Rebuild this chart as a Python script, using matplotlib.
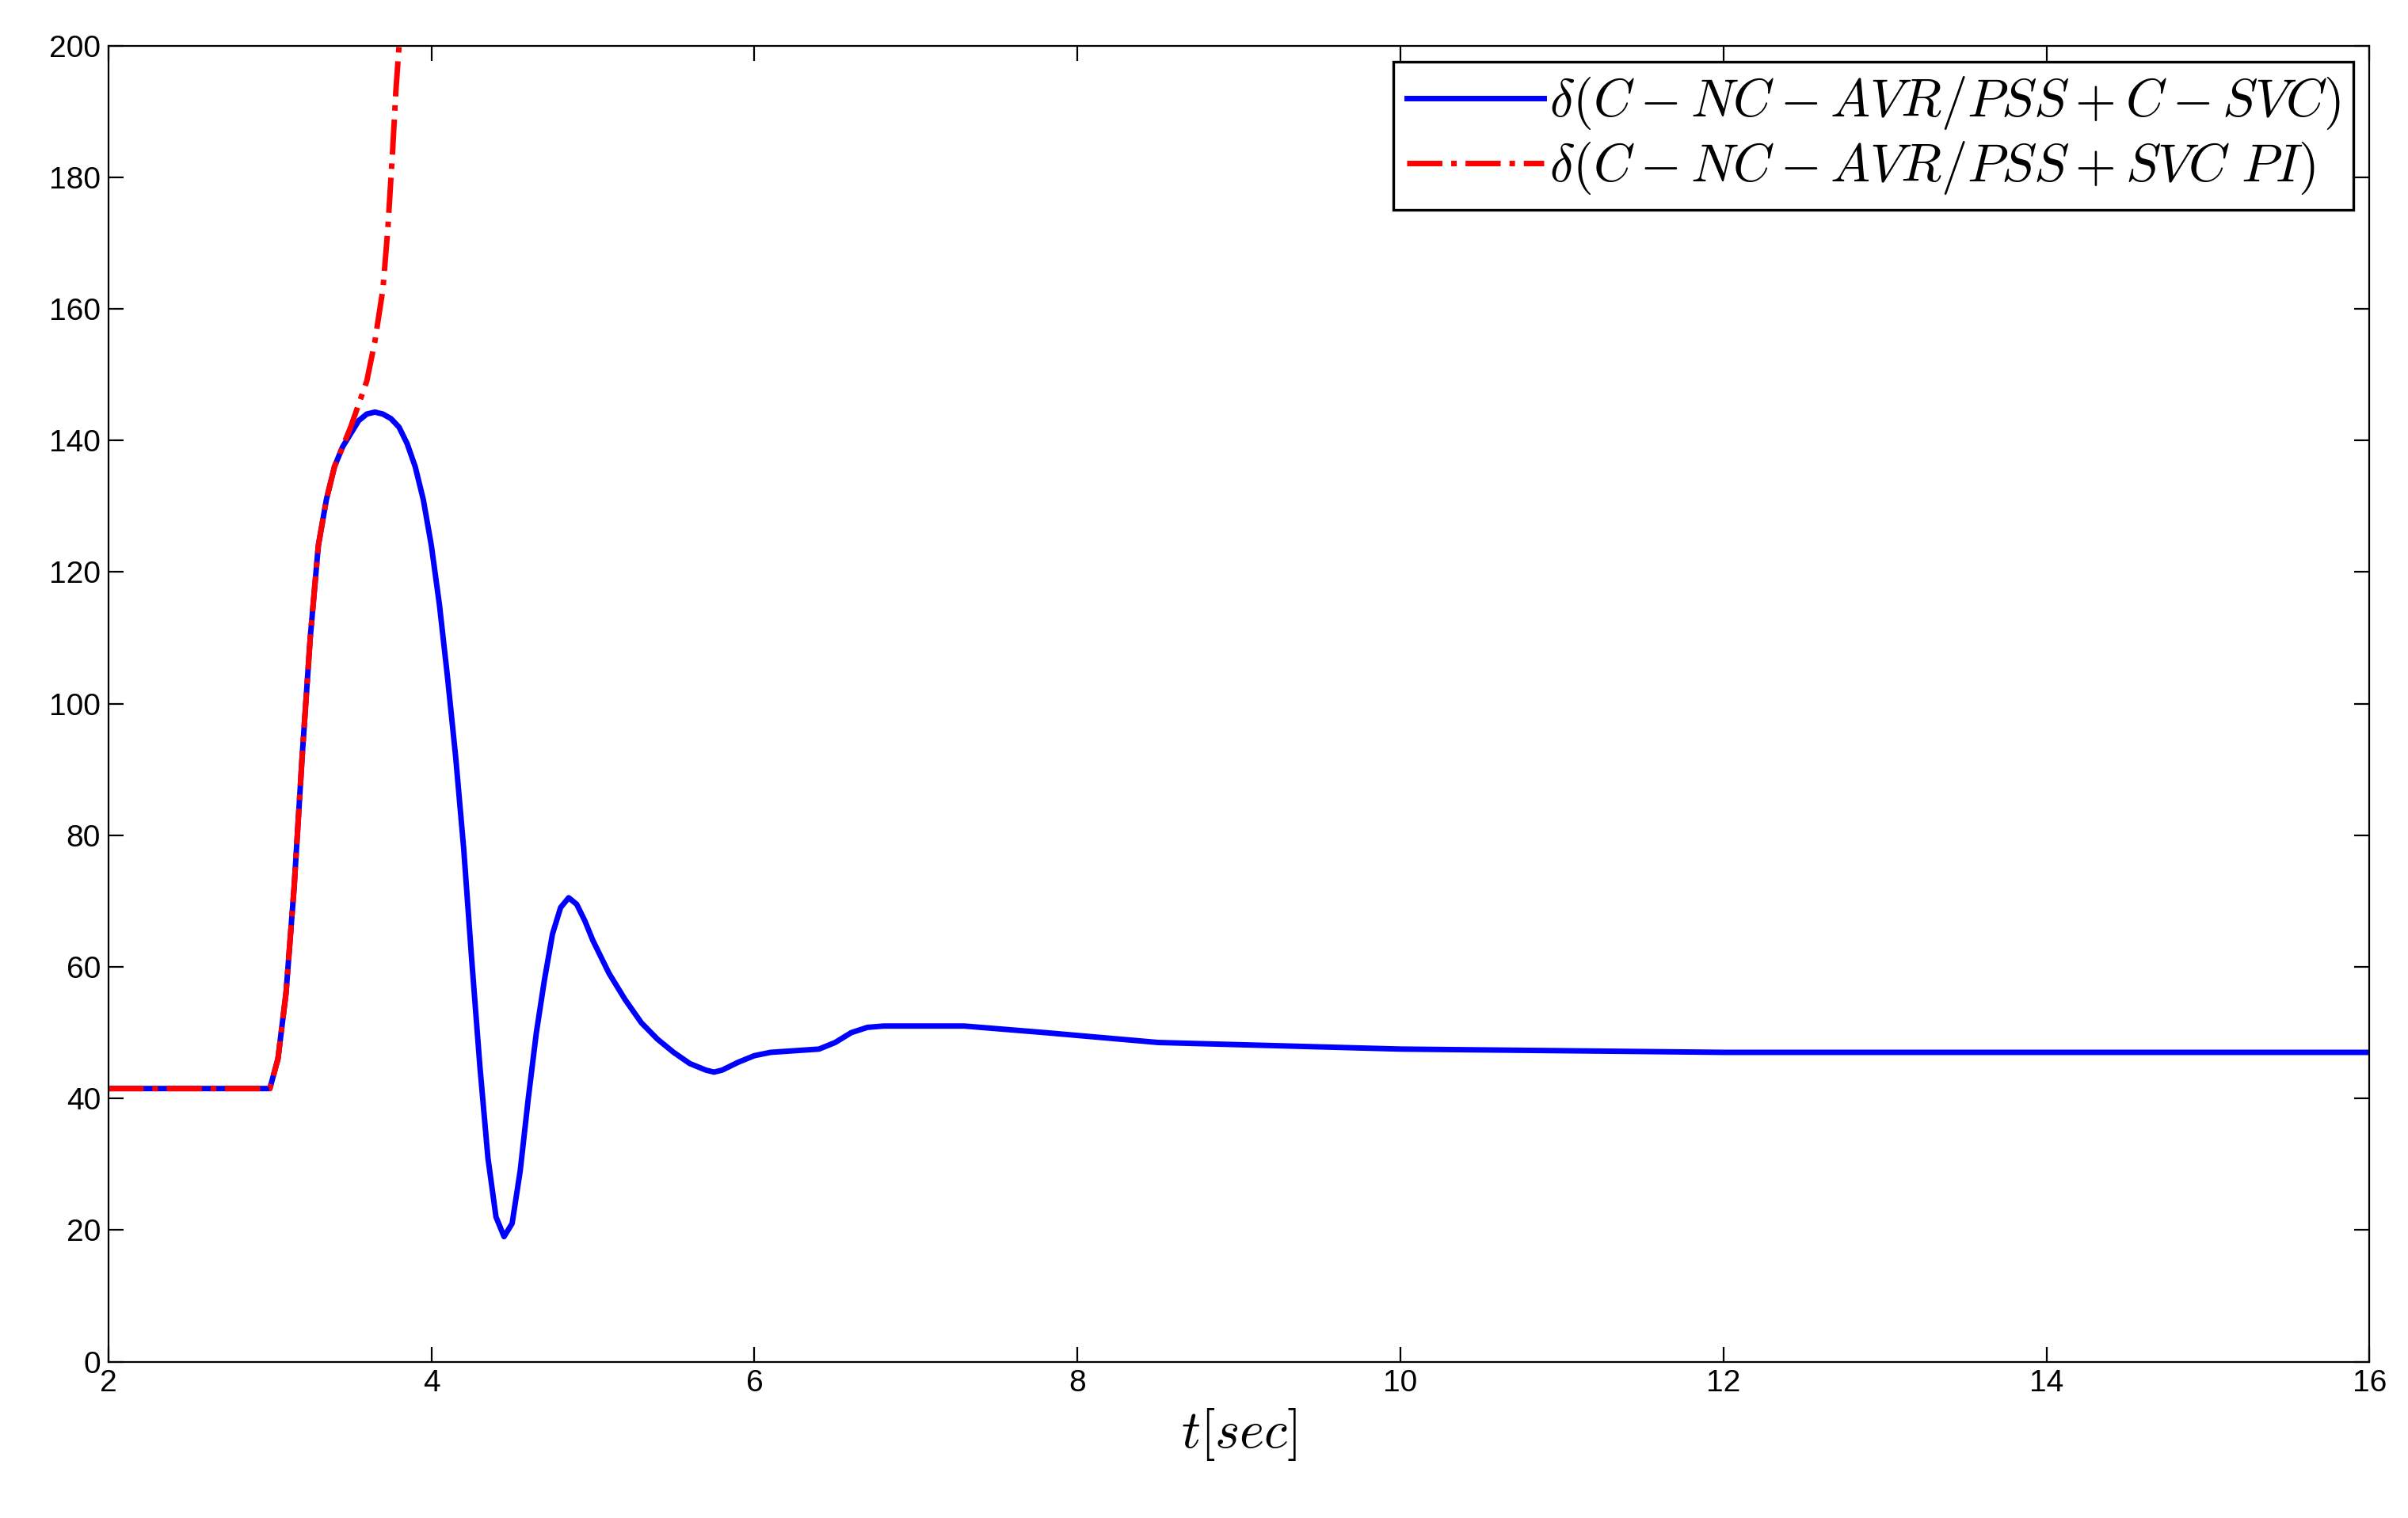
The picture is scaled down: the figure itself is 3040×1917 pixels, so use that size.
import matplotlib
matplotlib.use("Agg")
import matplotlib.pyplot as plt

plt.rcParams['mathtext.fontset'] = 'cm'
plt.rcParams['font.family'] = ['Liberation Sans', 'DejaVu Sans']

t_blue = [2.0, 3.0, 3.05, 3.1, 3.15, 3.2, 3.25, 3.3, 3.35, 3.4, 3.45, 3.5, 3.55, 3.6, 3.65, 3.7, 3.75, 3.8, 3.85, 3.9, 3.95, 4.0,
          4.05, 4.1, 4.15, 4.2, 4.25, 4.3, 4.35, 4.4, 4.45, 4.5, 4.55, 4.6, 4.65, 4.7, 4.75, 4.8, 4.85, 4.9, 4.95, 5.0, 5.1, 5.2, 5.3, 5.4, 5.5, 5.6,
          5.7, 5.75, 5.8, 5.9, 6.0, 6.1, 6.4, 6.5, 6.6, 6.7, 6.8, 7.3, 7.8, 8.5, 10.0, 12.0, 16.0]
d_blue = [41.5, 41.5, 46, 56, 72, 92, 110, 124, 131, 136, 139, 141, 143, 144, 144.3, 144, 143.3, 142, 139.5, 136, 131, 124,
          115, 104, 92, 78, 61, 45, 31, 22, 19, 21, 29, 40, 50, 58, 65, 69, 70.5, 69.5, 67, 64, 59, 55, 51.5, 49, 47, 45.3,
          44.3, 44, 44.3, 45.5, 46.5, 47, 47.5, 48.5, 50, 50.8, 51, 51, 50, 48.5, 47.5, 47, 47]

t_red = [2.0, 3.0, 3.05, 3.1, 3.15, 3.2, 3.25, 3.3, 3.35, 3.4, 3.5, 3.6, 3.65, 3.7, 3.73, 3.76, 3.78, 3.8]
d_red = [41.5, 41.5, 46, 56, 72, 92, 110, 124, 131, 136, 142, 149, 155, 163, 172, 184, 193, 200]

fig = plt.figure(figsize=(15.2, 9.585), dpi=200)
ax = fig.add_axes([0.045, 0.103, 0.939, 0.867])
ax.plot(t_blue, d_blue, color='blue', lw=2.5, label=r'$\delta(C-NC-AVR/PSS+C-SVC)$')
ax.plot(t_red, d_red, color='red', lw=2.5, ls='-.', label=r'$\delta(C-NC-AVR/PSS+SVC\ PI)$')
ax.set_xlim(2, 16)
ax.set_ylim(0, 200)
ax.set_xticks(range(2, 17, 2))
ax.set_yticks(range(0, 201, 20))
ax.tick_params(direction='in', top=True, right=True, labelsize=14, length=7)
ax.set_xlabel(r'$t[sec]$', fontsize=24)
leg = ax.legend(loc='upper right', fontsize=24, fancybox=False, edgecolor='black',
                framealpha=1, handlelength=2.6, handletextpad=0.1, borderpad=0.25,
                labelspacing=0.15, borderaxespad=0.3)
leg.get_frame().set_linewidth(1.2)
fig.savefig('out.png', dpi=200)
